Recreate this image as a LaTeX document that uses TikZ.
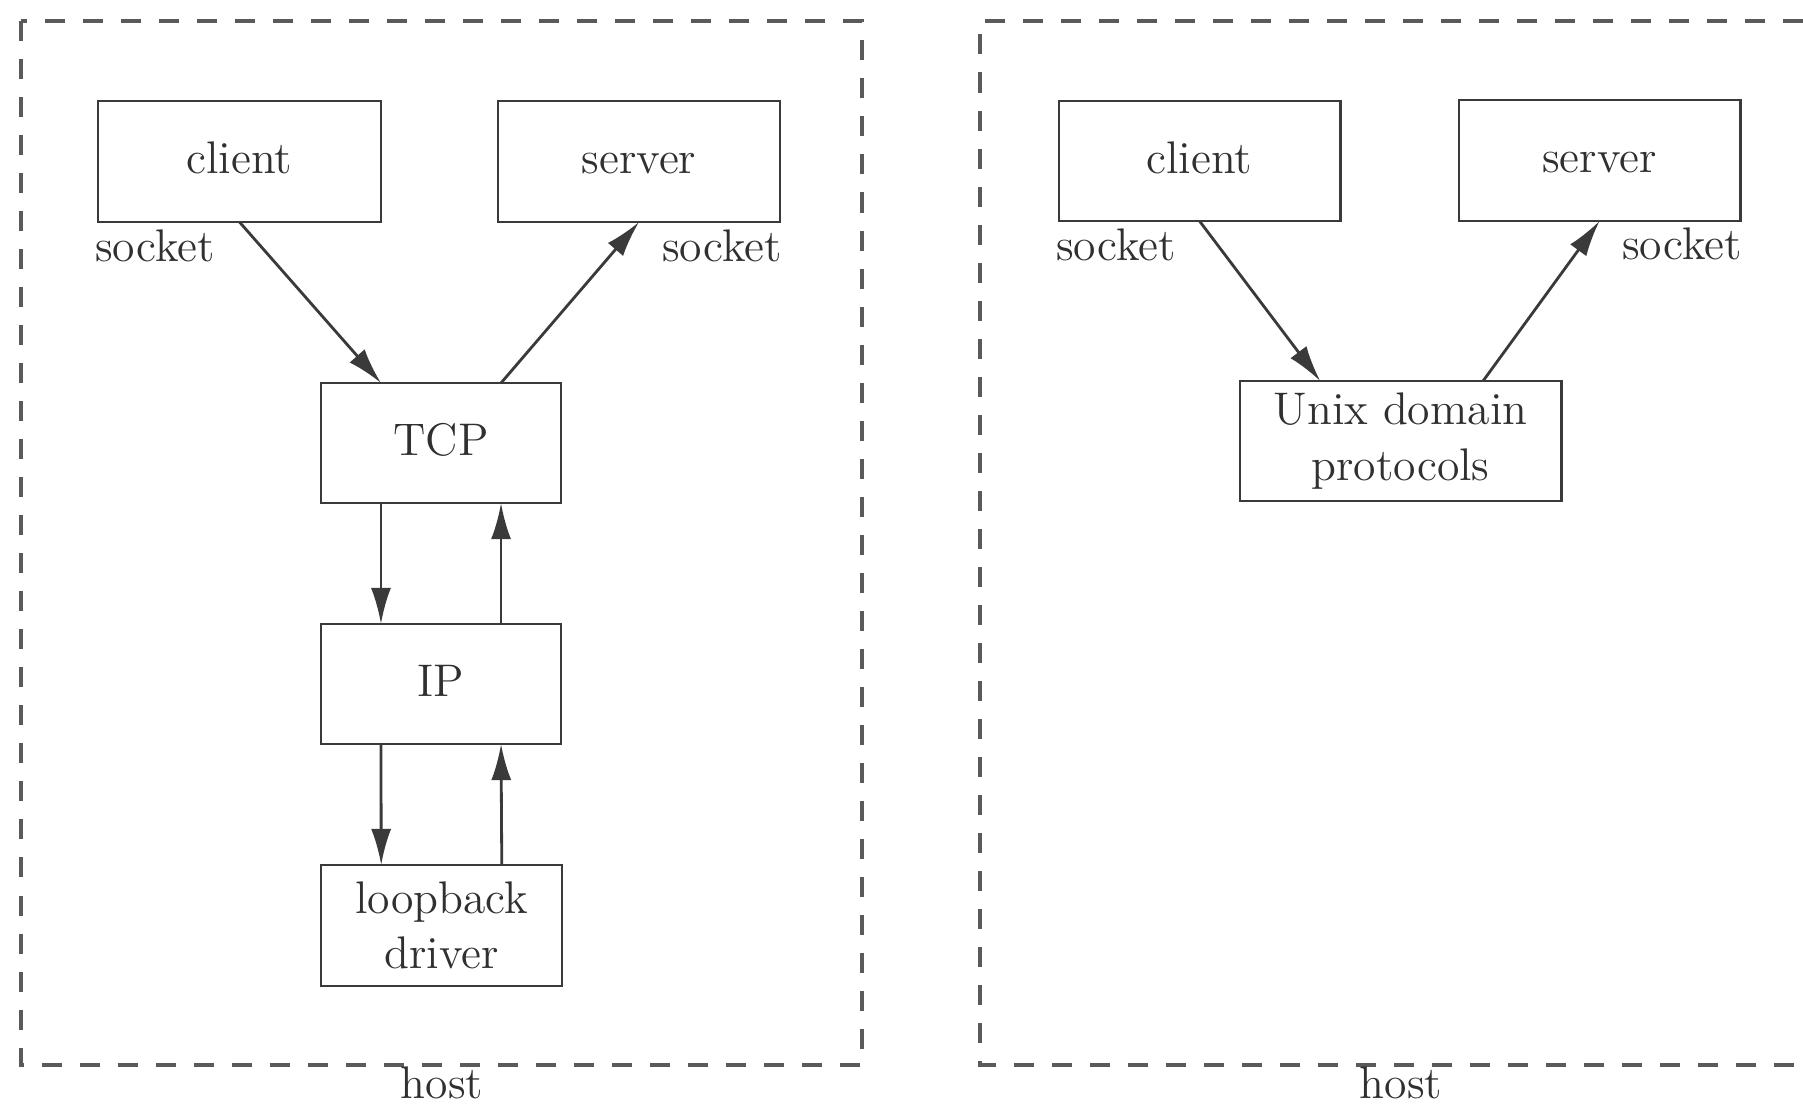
\documentclass[tikz,border=0pt]{standalone}
\usetikzlibrary{arrows.meta,calc}
\definecolor{ink}{HTML}{3A3A3A}
\definecolor{txt}{HTML}{303030}
\definecolor{dashc}{HTML}{5A5A5A}
\begin{document}
\begin{tikzpicture}[x=0.01cm,y=-0.01cm,
  box/.style={draw=ink, line width=0.8pt, inner sep=0pt, outer sep=0pt, align=center, text=txt, font=\fontsize{13}{15.7}\selectfont},
  one/.style={text height=9pt, text depth=2pt},
  lbl/.style={inner sep=0pt, text=txt, font=\fontsize{13}{15}\selectfont},
  hostbox/.style={draw=dashc, line width=1pt, dash pattern=on 0.2cm off 0.18cm},
  arr/.style={draw=ink, line width=0.8pt, -{Latex[length=3.6mm,width=2mm]}}]
\path[fill=white] (0,0) rectangle (1803,1105);
\useasboundingbox (0,0) rectangle (1803,1105);

% left host
\draw[hostbox] (21,21) rectangle (862,1065);
\node[lbl] (hostL) at (442,1083) {host};
\node[box, one, minimum width=2.83cm, minimum height=1.21cm] (c1) at (239.5,161.5) {client};
\node[box, one, minimum width=2.82cm, minimum height=1.21cm] (s1) at (639,161.5) {server};
\node[box, one, minimum width=2.40cm, minimum height=1.20cm] (tcp) at (441,443) {TCP};
\node[box, one, minimum width=2.40cm, minimum height=1.20cm] (ip) at (441,684) {IP};
\node[box, minimum width=2.41cm, minimum height=1.21cm] (lo) at (441.5,925.5) {loopback\\driver};
\node[lbl] (sk1) at (155,246) {socket};
\node[lbl] (sk2) at (722,246) {socket};

\draw[arr] (c1.south) -- ($(tcp.north west)!0.25!(tcp.north east)$);
\draw[arr] ($(tcp.north west)!0.75!(tcp.north east)$) -- (s1.south);
\draw[arr] ($(tcp.south west)!0.25!(tcp.south east)$) -- ($(ip.north west)!0.25!(ip.north east)$);
\draw[arr] ($(ip.north west)!0.75!(ip.north east)$) -- ($(tcp.south west)!0.75!(tcp.south east)$);
\draw[arr] ($(ip.south west)!0.25!(ip.south east)$) -- ($(lo.north west)!0.25!(lo.north east)$);
\draw[arr] ($(lo.north west)!0.75!(lo.north east)$) -- ($(ip.south west)!0.75!(ip.south east)$);

% right host
\draw[hostbox] (1803,21) -- (980,21) -- (980,1065) -- (1803,1065);
\node[lbl] (hostR) at (1401,1083) {host};
\node[box, one, minimum width=2.81cm, minimum height=1.20cm] (c2) at (1199.5,161) {client};
\node[box, one, minimum width=2.81cm, minimum height=1.21cm] (s2) at (1599.5,160.5) {server};
\node[box, minimum width=3.21cm, minimum height=1.20cm] (ux) at (1400.5,441) {Unix domain\\protocols};
\node[lbl] (sk3) at (1116,245) {socket};
\node[lbl] (sk4) at (1682,244) {socket};

\draw[arr] (c2.south) -- ($(ux.north west)!0.25!(ux.north east)$);
\draw[arr] ($(ux.north west)!0.757!(ux.north east)$) -- (s2.south);
\end{tikzpicture}
\end{document}
